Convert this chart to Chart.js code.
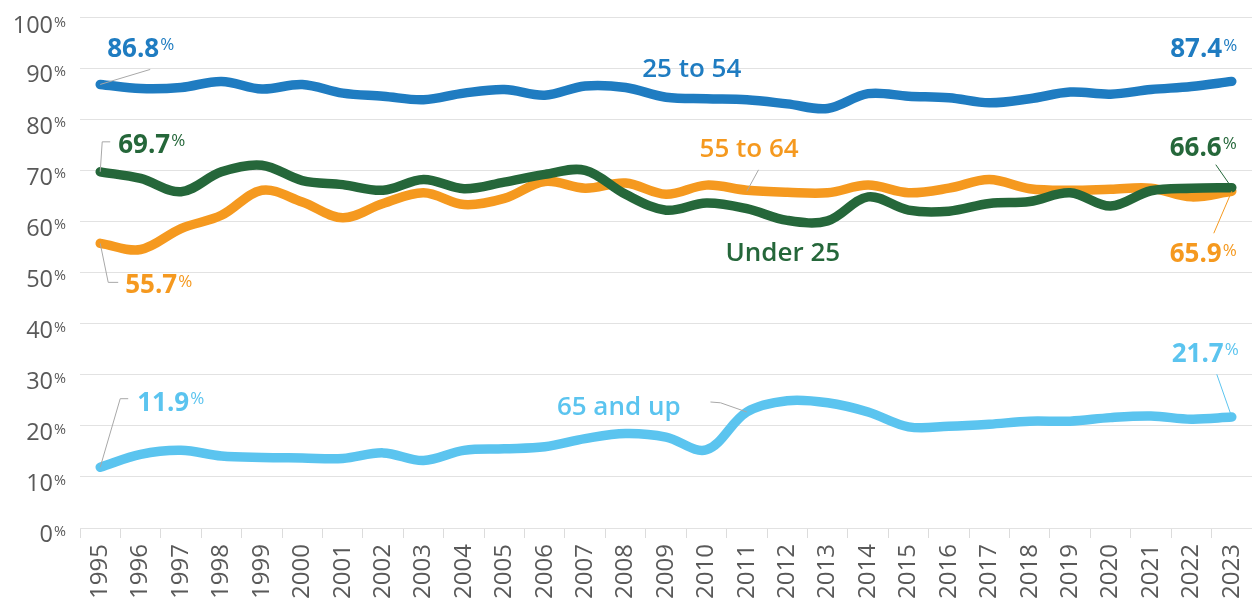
<!DOCTYPE html>
<html>
<head>
<meta charset="utf-8">
<script src="https://cdn.jsdelivr.net/npm/chart.js@4.4.1/dist/chart.umd.min.js"></script>
<style>
  html, body { margin: 0; padding: 0; background: #ffffff; }
  #wrap { width: 1252px; height: 605px; position: relative; }
</style>
</head>
<body>
<div id="wrap"><canvas id="c" width="1252" height="605"></canvas></div>
<script>
const years = ['1995','1996','1997','1998','1999','2000','2001','2002','2003','2004','2005','2006','2007','2008','2009','2010','2011','2012','2013','2014','2015','2016','2017','2018','2019','2020','2021','2022','2023'];
const under25 = [69.7, 68.4, 65.8, 69.7, 71.0, 68.0, 67.2, 66.1, 68.2, 66.4, 67.7, 69.2, 70.0, 65.3, 62.2, 63.6, 62.5, 60.2, 60.1, 64.8, 62.2, 62.0, 63.5, 63.9, 65.6, 63.0, 66.0, 66.5, 66.6];
const age25to54 = [86.8, 86.0, 86.2, 87.4, 85.9, 86.8, 85.1, 84.5, 83.8, 85.1, 85.8, 84.7, 86.5, 86.2, 84.3, 84.0, 83.8, 83.0, 82.1, 85.0, 84.5, 84.2, 83.2, 84.0, 85.3, 84.9, 85.8, 86.4, 87.4];
const age55to64 = [55.7, 54.5, 58.6, 61.2, 66.1, 63.8, 60.7, 63.5, 65.6, 63.3, 64.5, 67.8, 66.5, 67.5, 65.3, 67.1, 66.1, 65.7, 65.6, 67.1, 65.6, 66.5, 68.2, 66.4, 66.1, 66.3, 66.5, 64.8, 65.9];
const age65up = [11.9, 14.4, 15.2, 14.1, 13.8, 13.7, 13.6, 14.7, 13.2, 15.2, 15.5, 15.9, 17.5, 18.5, 17.8, 15.3, 22.7, 24.9, 24.5, 22.7, 19.8, 19.9, 20.3, 20.9, 20.9, 21.6, 21.9, 21.3, 21.7];
const yTicks = [0, 10, 20, 30, 40, 50, 60, 70, 80, 90, 100];
const seriesNames = ['Under 25', '25 to 54', '55 to 64', '65 and up'];

const COLORS = {
  green: '#25673a',
  blue: '#1f7cc1',
  orange: '#f5991f',
  light: '#5bc4ef'
};
const FONT = '"Open Sans", "Noto Sans", sans-serif';
const GREY = '#595959';
const LEADER = '#a8a8a8';

function drawPct(ctx, num, x, cy, color, size, weight, pSize, mode) {
  ctx.save();
  ctx.fillStyle = color;
  ctx.textBaseline = 'alphabetic';
  ctx.textAlign = 'left';
  ctx.font = weight + ' ' + size + 'px ' + FONT;
  const w1 = ctx.measureText(num).width;
  ctx.font = 'normal ' + pSize + 'px ' + FONT;
  const w2 = ctx.measureText('%').width;
  const gap = 1;
  let left;
  if (mode === 'left') left = x;
  else if (mode === 'right') left = x - w1 - gap - w2;
  else left = x - w1; // number right edge at x
  const cap = 0.714 * size;
  const base = cy + cap / 2;
  ctx.font = weight + ' ' + size + 'px ' + FONT;
  ctx.fillText(num, left, base);
  ctx.font = 'normal ' + pSize + 'px ' + FONT;
  const pBase = base - cap + 0.714 * pSize;
  ctx.fillText('%', left + w1 + gap, pBase);
  ctx.restore();
}

function polyline(ctx, pts, color) {
  ctx.save();
  ctx.strokeStyle = color;
  ctx.lineWidth = 1;
  ctx.beginPath();
  pts.forEach((p, i) => i ? ctx.lineTo(p[0], p[1]) : ctx.moveTo(p[0], p[1]));
  ctx.stroke();
  ctx.restore();
}

// value labels anchored on a data point (dataset index, point index), offsets in px
const valueLabels = [
  { ds: 1, i: 0,  color: COLORS.blue,   mode: 'left',  dx: 7,  dy: -37,  leader: [[0,0],[50,-15]], lc: LEADER },
  { ds: 0, i: 0,  color: COLORS.green,  mode: 'left',  dx: 18, dy: -28.5, leader: [[0,0],[2,-30],[10,-30]], lc: LEADER },
  { ds: 2, i: 0,  color: COLORS.orange, mode: 'left',  dx: 25, dy: 40.6, leader: [[0,0],[8,39],[18,39]], lc: LEADER },
  { ds: 3, i: 0,  color: COLORS.light,  mode: 'left',  dx: 37, dy: -65.6, leader: [[0,0],[20,-68.5],[28,-68.5]], lc: LEADER },
  { ds: 1, i: 28, color: COLORS.blue,   mode: 'right', dx: 5.5, dy: -33.6, leader: null },
  { ds: 0, i: 28, color: COLORS.green,  mode: 'right', dx: 5,  dy: -41.4, leader: [[0,0],[-16,-23]], lc: COLORS.green },
  { ds: 2, i: 28, color: COLORS.orange, mode: 'right', dx: 5,  dy: 61.5, leader: [[0,0],[-18,42]], lc: COLORS.orange },
  { ds: 3, i: 28, color: COLORS.light,  mode: 'right', dx: 7,  dy: -64.8, leader: [[0,0],[-15,-42.8]], lc: COLORS.light }
];

// series name labels, in data coordinates (category index, value)
const nameLabels = [
  { name: 1, xv: 13.41, yv: 90.0, color: COLORS.blue, leader: null },
  { name: 2, xv: 14.83, yv: 74.4, color: COLORS.orange, leader: [[16.0, 65.9],[16.29, 70.1]] },
  { name: 0, xv: 15.47, yv: 54.0, color: COLORS.green, leader: null },
  { name: 3, xv: 11.30, yv: 24.0, color: COLORS.light, leader: [[16.0, 22.7],[15.35, 24.5],[15.10, 24.66]] }
];

const overlay = {
  id: 'overlay',
  afterDraw(chart) {
    const ctx = chart.ctx;
    const xs = chart.scales.x, ys = chart.scales.y;
    // y axis labels
    yTicks.forEach(v => {
      const py = ys.getPixelForValue(v);
      drawPct(ctx, String(v), 53, Math.max(py + 6, 25), GREY, 23.5, 'normal', 14.5, 'numRight');
    });
    // name labels
    nameLabels.forEach(l => {
      if (l.leader) polyline(ctx, l.leader.map(p => [xs.getPixelForValue(p[0]), ys.getPixelForValue(p[1])]), LEADER);
      ctx.save();
      ctx.fillStyle = l.color;
      ctx.font = '600 26px ' + FONT;
      ctx.textAlign = 'left';
      ctx.textBaseline = 'alphabetic';
      const cy = ys.getPixelForValue(l.yv);
      ctx.fillText(seriesNames[l.name], xs.getPixelForValue(l.xv), cy + 0.714 * 26 / 2);
      ctx.restore();
    });
    // value labels
    valueLabels.forEach(l => {
      const pt = chart.getDatasetMeta(l.ds).data[l.i];
      const val = chart.data.datasets[l.ds].data[l.i];
      if (l.leader) polyline(ctx, l.leader.map(p => [pt.x + p[0], pt.y + p[1]]), l.lc);
      drawPct(ctx, val.toFixed(1), pt.x + l.dx, pt.y + l.dy, l.color, 26, 'bold', 17, l.mode);
    });
  }
};

function ds(label, data, color) {
  return {
    label, data,
    borderColor: color,
    backgroundColor: color,
    borderWidth: 9.5,
    pointRadius: 0,
    pointHoverRadius: 0,
    tension: 0.35,
    borderCapStyle: 'round',
    borderJoinStyle: 'round',
    fill: false
  };
}

new Chart(document.getElementById('c'), {
  type: 'line',
  data: {
    labels: years,
    datasets: [
      ds(seriesNames[0], under25, COLORS.green),
      ds(seriesNames[1], age25to54, COLORS.blue),
      ds(seriesNames[2], age55to64, COLORS.orange),
      ds(seriesNames[3], age65up, COLORS.light)
    ]
  },
  options: {
    responsive: false,
    animation: false,
    devicePixelRatio: 1,
    layout: { padding: { top: 17, left: 0, right: 0, bottom: 0 } },
    plugins: { legend: { display: false }, tooltip: { enabled: false } },
    scales: {
      x: {
        offset: true,
        grid: { display: true, offset: true, drawOnChartArea: false, drawTicks: true, tickLength: 10, color: '#dcdcdc', lineWidth: 1 },
        border: { display: false },
        ticks: {
          color: GREY,
          font: { family: FONT, size: 24 },
          minRotation: 90, maxRotation: 90,
          padding: 6,
          autoSkip: false
        },
        afterFit(scale) { scale.height = 77; scale.paddingRight = 0; scale.paddingLeft = 0; }
      },
      y: {
        min: 0, max: 100,
        ticks: { stepSize: 10, display: false },
        grid: { color: '#e2e2e2', lineWidth: 1, drawTicks: false },
        border: { display: false },
        afterFit(scale) { scale.width = 80; }
      }
    }
  },
  plugins: [overlay]
});
</script>
</body>
</html>
